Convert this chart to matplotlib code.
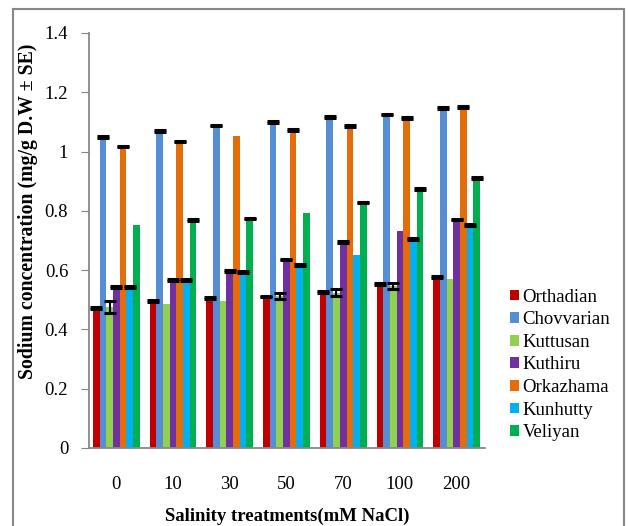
import numpy as np
import matplotlib
matplotlib.use("Agg")
from matplotlib import pyplot as plt
from matplotlib.patches import Rectangle

# salinity treatments (mM NaCl)
treatments = ["0", "10", "30", "50", "70", "100", "200"]

varieties = ["Orthadian", "Chovvarian", "Kuttusan", "Kuthiru",
             "Orkazhama", "Kunhutty", "Veliyan"]
colors = ["#C00000", "#558ED5", "#92D050", "#7030A0",
          "#E46C0A", "#00B0F0", "#00B050"]

# sodium content, one list per variety
orthadian = [0.471, 0.496, 0.505, 0.511, 0.527, 0.554, 0.577]
chovvarian = [1.050, 1.069, 1.088, 1.101, 1.116, 1.125, 1.146]
kuttusan = [0.475, 0.486, 0.496, 0.513, 0.524, 0.547, 0.569]
kuthiru = [0.544, 0.568, 0.596, 0.636, 0.696, 0.732, 0.771]
orkazhama = [1.017, 1.034, 1.054, 1.073, 1.086, 1.112, 1.150]
kunhutty = [0.544, 0.568, 0.593, 0.616, 0.651, 0.705, 0.753]
veliyan = [0.752, 0.768, 0.774, 0.792, 0.828, 0.873, 0.910]

# standard errors (0 = no error bar shown)
se_orthadian = [0.003, 0.003, 0.003, 0.003, 0.003, 0.003, 0.003]
se_chovvarian = [0.003, 0.003, 0.003, 0.003, 0.003, 0.003, 0.003]
se_kuttusan = [0.02, 0, 0, 0.011, 0.011, 0.011, 0]
se_kuthiru = [0.003, 0.003, 0.003, 0.003, 0.003, 0, 0.003]
se_orkazhama = [0.003, 0.003, 0, 0.003, 0.003, 0.003, 0.003]
se_kunhutty = [0.003, 0.003, 0.003, 0.003, 0, 0.003, 0.003]
se_veliyan = [0, 0.003, 0.003, 0, 0.003, 0.003, 0.003]

values = [orthadian, chovvarian, kuttusan, kuthiru, orkazhama, kunhutty, veliyan]
errors = [se_orthadian, se_chovvarian, se_kuttusan, se_kuthiru,
          se_orkazhama, se_kunhutty, se_veliyan]

plt.rcParams['font.family'] = ['Liberation Serif', 'DejaVu Serif']

fig = plt.figure(figsize=(6.28, 5.26), dpi=100)
ax = fig.add_axes([0.1417, 0.1483, 0.6306, 0.789])

x = np.arange(len(treatments))
w = 1 / 8.5
for i, (name, vals, errs, col) in enumerate(zip(varieties, values, errors, colors)):
    pos = x + (i - 3) * w
    ax.bar(pos, vals, width=w, color=col, label=name, linewidth=0)
    vals = np.array(vals)
    errs = np.array(errs)
    m = errs > 0
    ax.errorbar(pos[m], vals[m], yerr=errs[m], fmt='none', ecolor='black',
                elinewidth=1.5, capsize=4.3, capthick=2.2)

ax.set_xlim(-0.48, 6.5)
ax.set_ylim(0, 1.4)
ax.set_yticks(np.arange(0, 1.41, 0.2))
ax.set_yticklabels(["0", "0.2", "0.4", "0.6", "0.8", "1", "1.2", "1.4"])
ax.set_xticks(x)
ax.set_xticklabels(treatments)
ax.tick_params(axis='y', labelsize=13.5, length=6, color='#888888', pad=9)
ax.tick_params(axis='x', labelsize=13.5, length=0, pad=20)
for s in ['top', 'right']:
    ax.spines[s].set_visible(False)
for s in ['left', 'bottom']:
    ax.spines[s].set_color('#888888')
    ax.spines[s].set_linewidth(1.3)

ax.set_xlabel("Salinity treatments(mM NaCl)", fontsize=13.5, fontweight='bold', labelpad=11)
ax.set_ylabel("Sodium concentration (mg/g D.W \u00b1 SE)", fontsize=14.2,
              fontweight='bold')
ax.yaxis.set_label_coords(-0.128, 0.571)

ax.legend(loc='center left', bbox_to_anchor=(1.062, 0.2), frameon=False,
          fontsize=13.5, handlelength=0.5, handleheight=0.5, handletextpad=0.2,
          labelspacing=0.3, borderaxespad=0, borderpad=0)

# outer chart frame
fig.patches.append(Rectangle((13 / 628, -0.05), (624 - 13) / 628, 1.05 - 9 / 526,
                             transform=fig.transFigure, fill=False,
                             edgecolor='#888888', linewidth=1.5))

fig.savefig("out.png", dpi=100)
